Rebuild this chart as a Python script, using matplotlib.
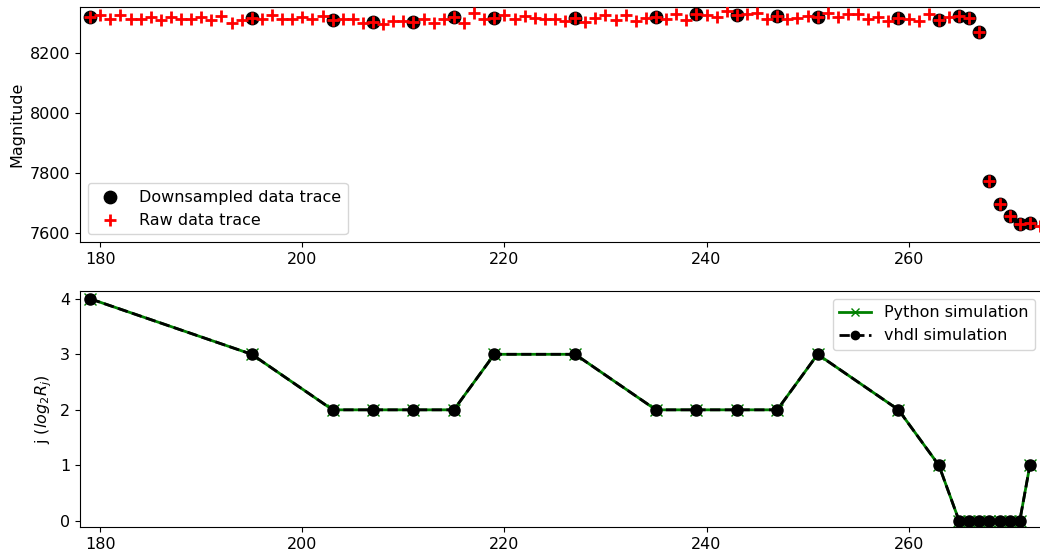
import matplotlib
matplotlib.use("Agg")
import matplotlib.pyplot as plt

# raw trace, one sample per index from 179 to 273
raw_start = 179
raw_mag = [8319, 8327, 8312, 8327, 8312, 8312, 8319, 8310, 8319, 8312,
           8312, 8319, 8310, 8323, 8301, 8310, 8316, 8312, 8327, 8312,
           8312, 8319, 8312, 8323, 8310, 8312, 8312, 8301, 8304, 8297,
           8308, 8308, 8304, 8312, 8299, 8312, 8319, 8301, 8332, 8312,
           8316, 8327, 8312, 8323, 8316, 8312, 8312, 8306, 8316, 8304,
           8316, 8327, 8310, 8327, 8308, 8316, 8319, 8312, 8330, 8310,
           8330, 8327, 8319, 8341, 8327, 8330, 8332, 8312, 8323, 8312,
           8316, 8323, 8321, 8334, 8319, 8330, 8330, 8312, 8321, 8308,
           8316, 8312, 8308, 8330, 8310, 8319, 8323, 8316, 8269, 7774,
           7696, 7657, 7630, 7632, 7623]
raw_x = list(range(raw_start, raw_start + len(raw_mag)))

# downsampled sample positions and step exponent j
down_x = [179, 195, 203, 207, 211, 215, 219, 227, 235, 239, 243, 247,
          251, 259, 263, 265, 266, 267, 268, 269, 270, 271, 272]
down_mag = [raw_mag[i - raw_start] for i in down_x]
j_python = [4, 3, 2, 2, 2, 2, 3, 3, 2, 2, 2, 2, 3, 2, 1, 0, 0, 0, 0, 0, 0, 0, 1]
j_vhdl = [4, 3, 2, 2, 2, 2, 3, 3, 2, 2, 2, 2, 3, 2, 1, 0, 0, 0, 0, 0, 0, 0, 1]

plt.rcParams['font.size'] = 11.5

fig = plt.figure(figsize=(10.4, 5.59), dpi=100)
W, H = 1040.0, 559.0
ax1 = fig.add_axes([80/W, 1 - 242/H, 963/W, 235/H])
ax2 = fig.add_axes([80/W, 1 - 527/H, 963/W, 236/H])

# top: magnitude traces
ax1.scatter(down_x, down_mag, s=80, c='black', label='Downsampled data trace', zorder=2)
ax1.scatter(raw_x, raw_mag, s=70, c='red', marker='+', linewidths=2, label='Raw data trace', zorder=3)
ax1.set_xlim(178, 273.3)
ax1.set_ylim(7570, 8353)
ax1.set_yticks([7600, 7800, 8000, 8200])
ax1.set_xticks([180, 200, 220, 240, 260])
ax1.set_ylabel('Magnitude')
ax1.legend(loc='lower left')

# bottom: j per downsampled sample
ax2.plot(down_x, j_python, color='green', marker='x', markersize=8, linewidth=2,
         label='Python simulation')
ax2.plot(down_x, j_vhdl, color='black', linestyle='--', marker='o', markersize=8,
         linewidth=2, label='vhdl simulation')
ax2.set_xlim(178, 273.3)
ax2.set_ylim(-0.11, 4.14)
ax2.set_yticks([0, 1, 2, 3, 4])
ax2.set_xticks([180, 200, 220, 240, 260])
ax2.set_ylabel('j ($log_2R_j$)')
ax2.legend(loc='upper right', markerscale=0.75)

fig.savefig('out.png', dpi=100)
